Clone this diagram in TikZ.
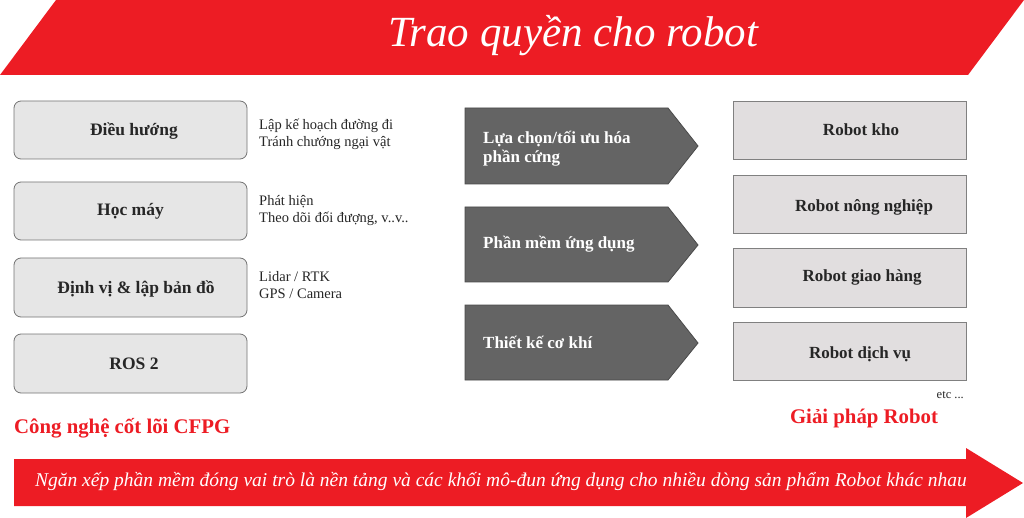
\documentclass[tikz,border=0pt]{standalone}
\usepackage{fontspec}
\setmainfont{Liberation Serif}
\definecolor{cred}{HTML}{ED1C24}
\definecolor{cdark}{HTML}{646464}
\definecolor{cdarkb}{HTML}{4A4A4A}
\definecolor{cleft}{HTML}{E6E6E6}
\definecolor{cright}{HTML}{E1DEDF}
\definecolor{ctext}{HTML}{262626}
\begin{document}
\begin{tikzpicture}[x=1pt,y=-1pt,
  leftbox/.style={draw=black!55, fill=cleft, rounded corners=7pt, line width=0.8pt},
  rightbox/.style={draw=black!50, fill=cright, line width=0.9pt},
  darrow/.style={draw=cdarkb, fill=cdark, line width=0.8pt},
  boxlbl/.style={font=\fontsize{17.5}{20}\selectfont\bfseries, text=ctext, anchor=center},
  rboxlbl/.style={font=\fontsize{17}{20}\selectfont\bfseries, text=ctext, anchor=center},
  sidelbl/.style={font=\fontsize{14.5}{17}\selectfont, text=ctext, anchor=north west, align=left, inner sep=0pt},
  arrlbl/.style={font=\fontsize{17}{19.5}\selectfont\bfseries, text=white, anchor=west, align=left, inner sep=0pt},
  redlbl/.style={font=\fontsize{20.8}{24}\selectfont\bfseries, text=cred, inner sep=0pt}]
\useasboundingbox (0,0) rectangle (1024,518);
% top banner
\fill[cred] (56,0) -- (1024,0) -- (968,75) -- (0,75) -- cycle;
\node[font=\fontsize{43}{46}\selectfont\itshape, text=white] (title) at (573,36) {Trao quyền cho robot};
% left boxes
\draw[leftbox] (14,101) rectangle (247,159);
\node[boxlbl] (l1) at (134,131) {Điều hướng};
\draw[leftbox] (14,182) rectangle (247,240);
\node[boxlbl] (l2) at (130.5,211) {Học máy};
\draw[leftbox] (14,258) rectangle (247,317);
\node[boxlbl] (l3) at (136,289) {Định vị \& lập bản đồ};
\draw[leftbox] (14,334) rectangle (247,393);
\node[boxlbl] (l4) at (134,364) {ROS 2};
\node[sidelbl] (s1) at (259,119) {Lập kế hoạch đường đi\\Tránh chướng ngại vật};
\node[sidelbl] (s2) at (259,195) {Phát hiện\\Theo dõi đối đượng, v..v..};
\node[sidelbl] (s3) at (259,271) {Lidar / RTK\\GPS / Camera};
\node[redlbl, anchor=west] (core) at (14,428) {Công nghệ cốt lõi CFPG};
% middle arrows
\draw[darrow] (465,108) -- (668,108) -- (698,146) -- (668,184) -- (465,184) -- cycle;
\node[arrlbl] (a1) at (483,148.5) {Lựa chọn/tối ưu hóa\\phần cứng};
\draw[darrow] (465,207) -- (668,207) -- (698,245) -- (668,282) -- (465,282) -- cycle;
\node[arrlbl] (a2) at (483,244) {Phần mềm ứng dụng};
\draw[darrow] (465,305) -- (668,305) -- (698,343) -- (668,380) -- (465,380) -- cycle;
\node[arrlbl] (a3) at (483,342) {Thiết kế cơ khí};
% right boxes
\draw[rightbox] (733,101) rectangle (966,159);
\node[rboxlbl] (r1) at (861,130) {Robot kho};
\draw[rightbox] (733,175) rectangle (966,233);
\node[rboxlbl] (r2) at (864,207) {Robot nông nghiệp};
\draw[rightbox] (733,248) rectangle (966,307);
\node[rboxlbl] (r3) at (862,277) {Robot giao hàng};
\draw[rightbox] (733,322) rectangle (966,380);
\node[rboxlbl] (r4) at (860,354) {Robot dịch vụ};
\node[font=\fontsize{12.5}{14}\selectfont, text=ctext, anchor=east, inner sep=0pt] (etc) at (964,395) {etc ...};
\node[redlbl] (sol) at (864,418) {Giải pháp Robot};
% bottom arrow
\fill[cred] (14,459) -- (966,459) -- (966,448) -- (1023,483) -- (966,518) -- (966,506) -- (14,506) -- cycle;
\node[font=\fontsize{19.5}{22}\selectfont\itshape, text=white] (bottom) at (501,482) {Ngăn xếp phần mềm đóng vai trò là nền tảng và các khối mô-đun ứng dụng cho nhiều dòng sản phẩm Robot khác nhau};
\end{tikzpicture}
\end{document}
